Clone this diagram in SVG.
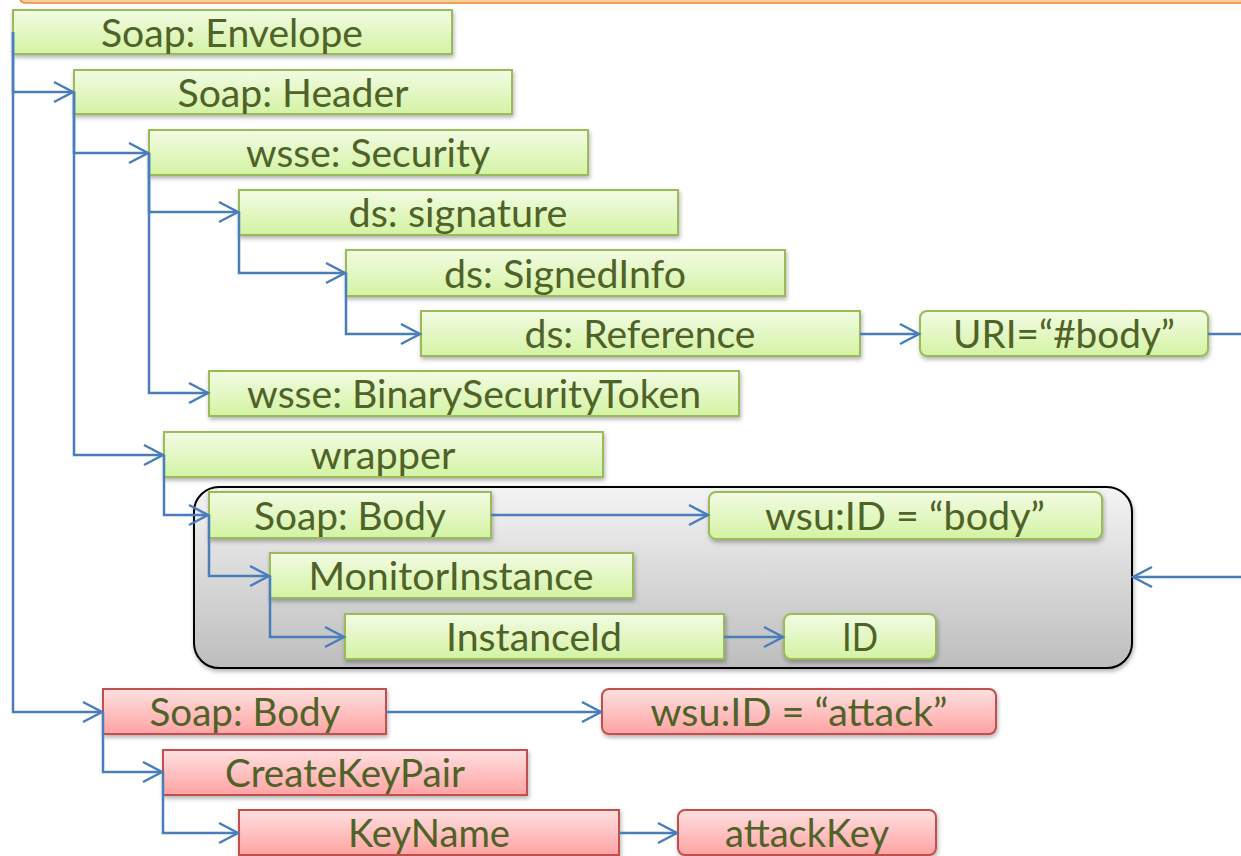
<svg xmlns="http://www.w3.org/2000/svg" width="1241" height="856" viewBox="0 0 1241 856">
<defs>
<linearGradient id="gG" x1="0" y1="0" x2="0" y2="1"><stop offset="0" stop-color="#f3fbe4"/><stop offset="1" stop-color="#d3f3a3"/></linearGradient>
<linearGradient id="gR" x1="0" y1="0" x2="0" y2="1"><stop offset="0" stop-color="#fde0e0"/><stop offset="1" stop-color="#ffa3a3"/></linearGradient>
<linearGradient id="gK" x1="0" y1="0" x2="0" y2="1"><stop offset="0" stop-color="#f4f4f4"/><stop offset="1" stop-color="#bdbdbd"/></linearGradient>
<linearGradient id="gO" x1="0" y1="0" x2="0" y2="1"><stop offset="0" stop-color="#f0a050"/><stop offset="1" stop-color="#fbd8a8"/></linearGradient>
<filter id="sh" x="-10%" y="-20%" width="120%" height="160%"><feDropShadow dx="1" dy="2.5" stdDeviation="2" flood-color="#000" flood-opacity="0.3"/></filter>
<marker id="ar" markerUnits="userSpaceOnUse" markerWidth="26" markerHeight="26" refX="21" refY="12" orient="auto" viewBox="0 0 26 26"><path d="M2,2 L21,12 L2,22" fill="none" stroke="#4a7ebb" stroke-width="2.5"/></marker>
<style>
.g{fill:url(#gG);stroke:#9bbb59;stroke-width:2;filter:url(#sh)}
.r{fill:url(#gR);stroke:#c0504d;stroke-width:2;filter:url(#sh)}
.t{font-family:Lato,"Open Sans","Liberation Sans",sans-serif;font-size:38px;fill:#4f6228;text-anchor:middle}
.c{fill:none;stroke:#4a7ebb;stroke-width:2.5;marker-end:url(#ar)}
.l{fill:none;stroke:#4a7ebb;stroke-width:2.5}
</style>
</defs>
<rect x="0" y="0" width="1241" height="856" fill="#fff"/>
<path d="M20,-10 V-2 Q20,3 26,3 H1245 V-10 Z" fill="url(#gO)" stroke="#e88a30" stroke-width="1.5"/>
<g id="bodybox"><rect x="194" y="487" width="938" height="181" rx="25" fill="url(#gK)" stroke="#000" stroke-width="2" filter="url(#sh)"/></g>
<g id="n-envelope"><rect class="g" x="13" y="10" width="439" height="44"/><text class="t" x="232" y="47" textLength="262" lengthAdjust="spacingAndGlyphs">Soap: Envelope</text></g>
<g id="n-header"><rect class="g" x="74" y="70" width="438" height="44"/><text class="t" x="293" y="107" textLength="231" lengthAdjust="spacingAndGlyphs">Soap: Header</text></g>
<g id="n-security"><rect class="g" x="149" y="130" width="439" height="45"/><text class="t" x="368" y="167" textLength="244" lengthAdjust="spacingAndGlyphs">wsse: Security</text></g>
<g id="n-signature"><rect class="g" x="239" y="190" width="439" height="45"/><text class="t" x="458" y="227" textLength="219" lengthAdjust="spacingAndGlyphs">ds: signature</text></g>
<g id="n-signedinfo"><rect class="g" x="346" y="250" width="439" height="46"/><text class="t" x="565" y="288" textLength="242" lengthAdjust="spacingAndGlyphs">ds: SignedInfo</text></g>
<g id="n-reference"><rect class="g" x="421" y="311" width="439" height="45"/><text class="t" x="640" y="348" textLength="231" lengthAdjust="spacingAndGlyphs">ds: Reference</text></g>
<g id="n-uri"><rect class="g" x="920" y="311" width="288" height="45" rx="7"/><text class="t" x="1064" y="348" textLength="222" lengthAdjust="spacingAndGlyphs">URI=“#body”</text></g>
<g id="n-bst"><rect class="g" x="209" y="371" width="530" height="45"/><text class="t" x="474" y="408" textLength="454" lengthAdjust="spacingAndGlyphs">wsse: BinarySecurityToken</text></g>
<g id="n-wrapper"><rect class="g" x="164" y="432" width="439" height="45"/><text class="t" x="383" y="469" textLength="145" lengthAdjust="spacingAndGlyphs">wrapper</text></g>
<g id="n-body"><rect class="g" x="209" y="492" width="282" height="46"/><text class="t" x="350" y="530" textLength="192" lengthAdjust="spacingAndGlyphs">Soap: Body</text></g>
<g id="n-idbody"><rect class="g" x="709" y="492" width="393" height="47" rx="7"/><text class="t" x="905" y="530" textLength="280" lengthAdjust="spacingAndGlyphs">wsu:ID = “body”</text></g>
<g id="n-monitor"><rect class="g" x="270" y="553" width="363" height="45"/><text class="t" x="451" y="590" textLength="285" lengthAdjust="spacingAndGlyphs">MonitorInstance</text></g>
<g id="n-instanceid"><rect class="g" x="345" y="614" width="379" height="45"/><text class="t" x="534" y="651" textLength="176" lengthAdjust="spacingAndGlyphs">InstanceId</text></g>
<g id="n-id"><rect class="g" x="784" y="614" width="152" height="45" rx="7"/><text class="t" x="860" y="651" textLength="36" lengthAdjust="spacingAndGlyphs">ID</text></g>
<g id="n-attackbody"><rect class="r" x="103" y="689" width="283" height="45"/><text class="t" x="245" y="726" textLength="191" lengthAdjust="spacingAndGlyphs">Soap: Body</text></g>
<g id="n-idattack"><rect class="r" x="602" y="689" width="394" height="45" rx="7"/><text class="t" x="799" y="726" textLength="297" lengthAdjust="spacingAndGlyphs">wsu:ID = “attack”</text></g>
<g id="n-createkeypair"><rect class="r" x="163" y="750" width="364" height="45"/><text class="t" x="345" y="787" textLength="240" lengthAdjust="spacingAndGlyphs">CreateKeyPair</text></g>
<g id="n-keyname"><rect class="r" x="239" y="810" width="380" height="45"/><text class="t" x="429" y="847" textLength="162" lengthAdjust="spacingAndGlyphs">KeyName</text></g>
<g id="n-attackkey"><rect class="r" x="678" y="810" width="258" height="45" rx="7"/><text class="t" x="807" y="847" textLength="164" lengthAdjust="spacingAndGlyphs">attackKey</text></g>
<g id="connectors">
<path class="c" d="M13,32 V92 H73"/>
<path class="c" d="M13,32 V712 H102"/>
<path class="c" d="M74,92 V153 H148"/>
<path class="c" d="M74,92 V455 H163"/>
<path class="c" d="M149,153 V212 H238"/>
<path class="c" d="M149,153 V393 H208"/>
<path class="c" d="M239,212 V273 H345"/>
<path class="c" d="M346,273 V334 H420"/>
<path class="c" d="M860,334 H919"/>
<path class="l" d="M1208,334 H1250"/>
<path class="c" d="M1250,577 H1133"/>
<path class="c" d="M164,455 V515 H208"/>
<path class="c" d="M491,515 H708"/>
<path class="c" d="M209,515 V576 H269"/>
<path class="c" d="M270,576 V637 H344"/>
<path class="c" d="M724,637 H783"/>
<path class="c" d="M386,712 H601"/>
<path class="c" d="M103,712 V772 H162"/>
<path class="c" d="M163,772 V833 H238"/>
<path class="c" d="M619,833 H677"/>
</g>
</svg>
